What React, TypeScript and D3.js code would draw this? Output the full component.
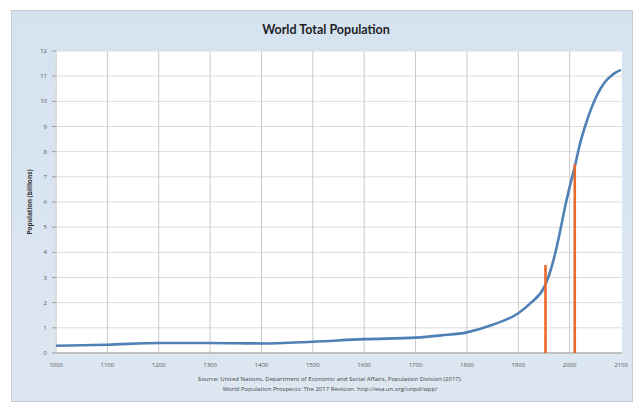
import React from "react";
import * as d3 from "d3";

const years = [1000, 1100, 1200, 1300, 1400, 1500, 1600, 1700, 1750, 1800, 1850, 1900, 1925, 1950, 1960, 1970, 1980, 1990, 2000, 2010, 2020, 2030, 2040, 2050, 2060, 2070, 2080, 2090, 2100];
const population = [0.29, 0.33, 0.4, 0.4, 0.38, 0.45, 0.55, 0.61, 0.7, 0.82, 1.12, 1.58, 2.0, 2.6, 3.1, 3.8, 4.7, 5.7, 6.6, 7.4, 8.3, 9.0, 9.6, 10.1, 10.5, 10.8, 11.0, 11.15, 11.25];
const markerYears = [1953, 2010];
const markerValues = [3.5, 7.5];
const xTicks = [1000, 1100, 1200, 1300, 1400, 1500, 1600, 1700, 1800, 1900, 2000, 2100];
const yTicks = [0, 1, 2, 3, 4, 5, 6, 7, 8, 9, 10, 11, 12];
const title = "World Total Population";
const yTitle = "Population (billions)";
const sourceLines = [
  "Source: United Nations, Department of Economic and Social Affairs, Population Division (2017).",
  "World Population Prospects: The 2017 Revision. http://esa.un.org/unpd/wpp/",
];

export default function App() {
  const W = 641, H = 404;
  const left = 56, right = 621, top = 51, bottom = 353;
  const x = d3.scaleLinear().domain([1000, 2100]).range([left, right]);
  const y = d3.scaleLinear().domain([0, 12]).range([bottom, top]);
  const data = years.map((yr, i) => [yr, population[i]] as [number, number]);
  const line = d3.line<[number, number]>().x(d => x(d[0])).y(d => y(d[1])).curve(d3.curveMonotoneX);
  const font = "'Open Sans', 'Liberation Sans', sans-serif";
  return (
    <svg width={W} height={H} style={{ position: "absolute", left: 0, top: 0 }} fontFamily={font}>
      <defs>
        <linearGradient id="bg" x1="0" y1="0" x2="0" y2="1">
          <stop offset="0" stopColor="#d5e2f0" />
          <stop offset="1" stopColor="#dde7f2" />
        </linearGradient>
      </defs>
      <rect x={0} y={0} width={W} height={H} fill="#ffffff" />
      <rect x={11.5} y={10.5} width={621} height={391} fill="url(#bg)" stroke="#c3cad3" />
      <text x={326} y={34} textAnchor="middle" fontSize={12.5} fontWeight="bold" fill="#1f1f1f" fontFamily="Lato, 'Open Sans', sans-serif">{title}</text>
      <rect x={left - 1} y={top} width={right - left + 2} height={bottom - top} fill="#ffffff" />
      {yTicks.map(t => (
        <g key={"y" + t}>
          <line x1={left} x2={right + 1} y1={y(t)} y2={y(t)} stroke="#dcdcdc" strokeWidth={1} />
          <line x1={left - 4} x2={left} y1={y(t)} y2={y(t)} stroke="#9a9a9a" />
          <text x={left - 9} y={y(t) + 2} textAnchor="end" fontSize={6} fill="#555">{t}</text>
        </g>
      ))}
      {xTicks.map(t => (
        <g key={"x" + t}>
          {t !== 1000 && t !== 2100 && (
            <line x1={x(t)} x2={x(t)} y1={top} y2={bottom} stroke="#c9c9c9" strokeWidth={1} />
          )}
          <text x={x(t)} y={bottom + 14} textAnchor="middle" fontSize={6} fill="#555">{t}</text>
        </g>
      ))}
      <line x1={left} x2={left} y1={top} y2={bottom} stroke="#b8b8b8" />
      <line x1={left} x2={right + 1} y1={bottom} y2={bottom} stroke="#9a9a9a" />
      <path d={line(data) || ""} fill="none" stroke="#4f80b6" strokeWidth={2.6} strokeLinejoin="round" />
      {markerYears.map((yr, i) => (
        <line key={"m" + i} x1={x(yr)} x2={x(yr)} y1={bottom} y2={y(markerValues[i])} stroke="#ea6a2c" strokeWidth={2.6} />
      ))}
      <text transform={`translate(32,202) rotate(-90)`} textAnchor="middle" fontSize={6.5} fontWeight="bold" fill="#333">{yTitle}</text>
      {sourceLines.map((s, i) => (
        <text key={"s" + i} x={330} y={381 + i * 10} textAnchor="middle" fontSize={6} fill="#444">{s}</text>
      ))}
    </svg>
  );
}
